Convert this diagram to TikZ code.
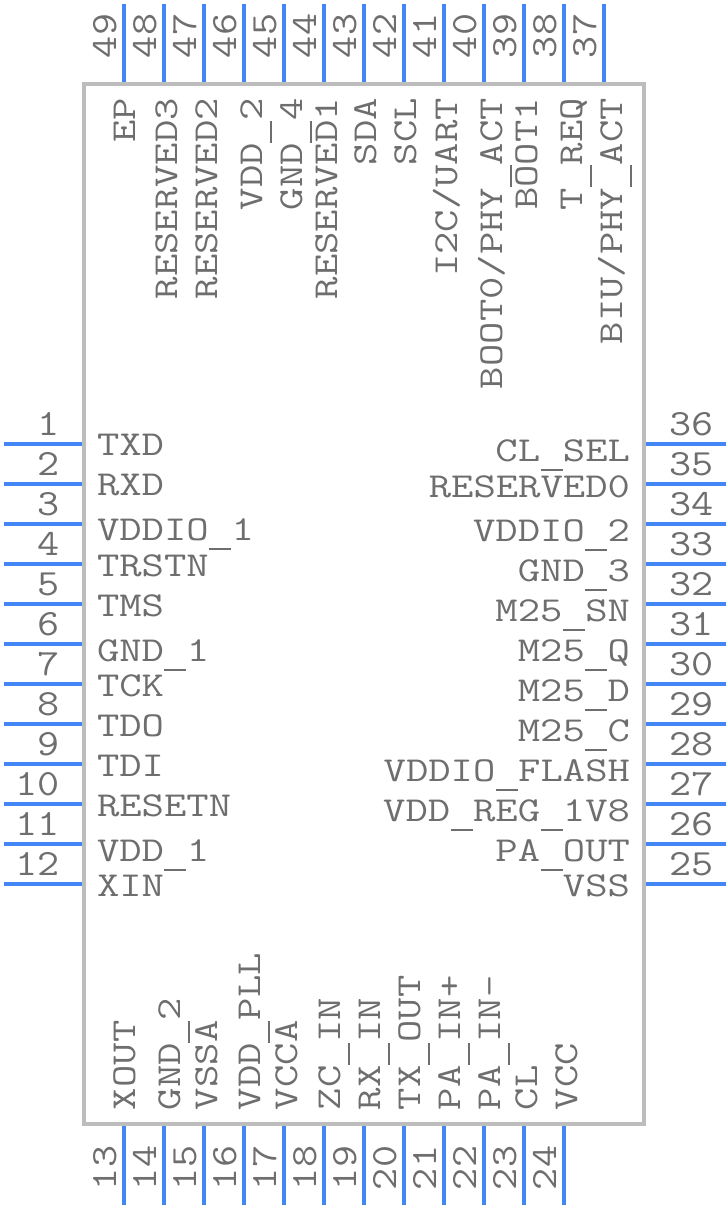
\documentclass[tikz,border=0pt]{standalone}
\usepackage{fontspec}
\newfontfamily\pinfont[FakeStretch=1.24]{Latin Modern Mono}
\newfontfamily\numfont[FakeStretch=1.16]{Latin Modern Mono}
\definecolor{pinblue}{HTML}{4287F5}
\definecolor{bodygrey}{HTML}{BDBDBD}
\definecolor{textgrey}{HTML}{6E6E6E}
\newcommand{\usc}{\makebox[22.8pt]{\rule[-10pt]{22pt}{1.7pt}}}
\tikzset{
  x=1pt,y=-1pt,
  pinline/.style={draw=pinblue,line width=4pt},
  bodybox/.style={draw=bodygrey,line width=4pt},
  lbl/.style={inner sep=0pt,outer sep=0pt,text=textgrey,font=\pinfont\fontsize{35}{35}\selectfont},
  num/.style={inner sep=0pt,outer sep=0pt,text=textgrey,font=\numfont\fontsize{37}{37}\selectfont},
}
\begin{document}
\begin{tikzpicture}
\useasboundingbox (0,0) rectangle (728,1208);
\foreach \i in {0,...,11}{
  \pgfmathsetmacro{\py}{443.7+40*\i}
  \draw[pinline] (3.5,\py) -- (82.3,\py);
  \draw[pinline] (646,\py) -- (725.5,\py);
}
\foreach \i in {0,...,12}{
  \pgfmathsetmacro{\px}{124+40*\i}
  \draw[pinline] (\px,3.5) -- (\px,82.3);
}
\foreach \i in {0,...,11}{
  \pgfmathsetmacro{\px}{124+40*\i}
  \draw[pinline] (\px,1125.7) -- (\px,1205);
}
\draw[bodybox] (84.2,84.2) rectangle (644,1123.7);
% left pin numbers
\foreach \n in {1,...,12}{
  \pgfmathsetmacro{\py}{443+40*(\n-1)-8}
  \node[num,anchor=base east] (n\n) at (60,\py) {\n};
}
% right pin numbers
\foreach \n in {25,...,36}{
  \pgfmathsetmacro{\py}{443+40*(36-\n)-8}
  \node[num,anchor=base west] (n\n) at (669,\py) {\n};
}
% top pin numbers
\foreach \n in {37,...,49}{
  \pgfmathsetmacro{\px}{124+40*(49-\n)-8}
  \node[num,rotate=90,anchor=base west] (n\n) at (\px,58) {\n};
}
% bottom pin numbers
\foreach \n in {13,...,24}{
  \pgfmathsetmacro{\px}{124+40*(\n-13)-8}
  \node[num,rotate=90,anchor=base west] (n\n) at (\px,1190) {\n};
}
% left labels
\foreach \nm/\t/\by in {l1/TXD/455,l2/RXD/495,l3/VDDIO\usc 1/540,l4/TRSTN/576,l5/TMS/616,l6/GND\usc 1/661,l7/TCK/696,l8/TDO/736,l9/TDI/776,l10/RESETN/816,l11/VDD\usc 1/861,l12/XIN/896}{
  \node[lbl,anchor=base west] (\nm) at (97,\by) {\t};
}
% right labels
\foreach \nm/\t/\by in {r36/CL\usc SEL/461,r35/RESERVED0/497,r34/VDDIO\usc 2/541,r33/GND\usc 3/581,r32/M25\usc SN/621,r31/M25\usc Q/661,r30/M25\usc D/701,r29/M25\usc C/741,r28/VDDIO\usc FLASH/781,r27/VDD\usc REG\usc 1V8/821,r26/PA\usc OUT/861,r25/VSS/896}{
  \node[lbl,anchor=base east] (\nm) at (630,\by) {\t};
}
% top labels
\foreach \nm/\t/\bx in {t49/EP/135,t48/RESERVED3/177,t47/RESERVED2/217,t46/VDD\usc 2/262,t45/GND\usc 4/302,t44/RESERVED1/337,t43/SDA/376,t42/SCL/416,t41/{I2C/UART}/457,t40/{BOOT0/PHY\usc ACT}/502,t39/BOOT1/537,t38/T\usc REQ/582,t37/{BIU/PHY\usc ACT}/622}{
  \node[lbl,rotate=90,anchor=base east] (\nm) at (\bx,98) {\t};
}
% bottom labels
\foreach \nm/\t/\bx in {b13/XOUT/135,b14/GND\usc 2/180,b15/VSSA/217,b16/VDD\usc PLL/260,b17/VCCA/297,b18/ZC\usc IN/340,b19/RX\usc IN/380,b20/TX\usc OUT/420,b21/PA\usc IN+/460,b22/PA\usc IN-/500,b23/CL/537,b24/VCC/577}{
  \node[lbl,rotate=90,anchor=base west] (\nm) at (\bx,1110) {\t};
}
\end{tikzpicture}
\end{document}
